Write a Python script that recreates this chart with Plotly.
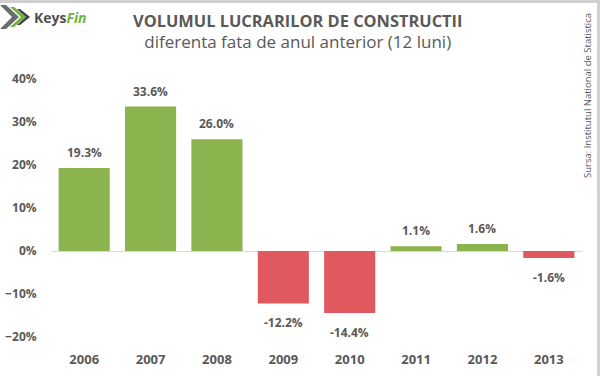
import plotly.graph_objects as go

years = ["2006", "2007", "2008", "2009", "2010", "2011", "2012", "2013"]
values = [19.3, 33.6, 26.0, -12.2, -14.4, 1.1, 1.6, -1.6]
labels = ["19.3%", "33.6%", "26.0%", "-12.2%", "-14.4%", "1.1%", "1.6%", "-1.6%"]

GREEN = "#8BB34E"
RED = "#E0595F"
TXT = "#595959"
FONT = "Open Sans"

W, H = 600, 376
L, R, T, B = 51, 18, 79, 39
PW, PH = W - L - R, H - T - B

def px(x):
    return (x - L) / PW

def py(y):
    return (H - B - y) / PH

colors = [GREEN if v >= 0 else RED for v in values]

fig = go.Figure()
fig.add_trace(go.Bar(
    x=years, y=values,
    marker=dict(color=colors, line=dict(width=0)),
    hoverinfo="skip",
))

annotations = []
for i, (v, lab) in enumerate(zip(values, labels)):
    if v >= 0:
        annotations.append(dict(x=i, y=v, xref="x", yref="y", text="<b>%s</b>" % lab,
                                showarrow=False, yanchor="bottom", yshift=5,
                                font=dict(family=FONT, size=12, color=TXT)))
    else:
        annotations.append(dict(x=i, y=v, xref="x", yref="y", text="<b>%s</b>" % lab,
                                showarrow=False, yanchor="top", yshift=-9,
                                font=dict(family=FONT, size=12, color=TXT)))

# title (two lines)
annotations.append(dict(x=px(297), y=py(30.5), xref="paper", yref="paper",
                        text="<b>VOLUMUL LUCRARILOR DE CONSTRUCTII</b><br>"
                             "<span style='font-size:17px'>diferenta fata de anul anterior (12 luni)</span>",
                        showarrow=False, xanchor="center", yanchor="middle", align="center",
                        font=dict(family=FONT, size=16.4, color=TXT)))
# source
annotations.append(dict(x=px(587), y=py(96), xref="paper", yref="paper",
                        text="Sursa: Institutul National de Statistica", showarrow=False,
                        textangle=-90, xanchor="center", yanchor="middle",
                        font=dict(family=FONT, size=9.5, color=TXT)))
# logo text
annotations.append(dict(x=px(32), y=py(17), xref="paper", yref="paper",
                        text="<b>Keys</b><b><i><span style='color:#6DB33F'>Fin</span></i></b>",
                        showarrow=False, xanchor="left", yanchor="middle",
                        font=dict(family=FONT, size=14, color="#505050")))

def path(pts):
    s = "M %f %f " % (px(pts[0][0]), py(pts[0][1]))
    for x, y in pts[1:]:
        s += "L %f %f " % (px(x), py(y))
    return s + "Z"

shapes = [
    dict(type="path", xref="paper", yref="paper", line=dict(width=0), fillcolor="#6B6B6B",
         path=path([(0, 5), (6, 5), (19, 17), (6, 29), (0, 29), (12, 17)])),
    dict(type="path", xref="paper", yref="paper", line=dict(width=0), fillcolor="#6DB33F",
         path=path([(10, 7), (14, 7), (26, 17), (14, 27), (10, 27), (21, 17)])),
    dict(type="path", xref="paper", yref="paper", line=dict(width=0), fillcolor="#3F3F3F",
         path=path([(17, 9), (20, 9), (30, 17), (20, 25), (17, 25), (26, 17)])),
    # frame lines
    dict(type="line", xref="paper", yref="paper", x0=px(0), x1=px(600), y0=py(1.5), y1=py(1.5),
         line=dict(color="#D0D0D0", width=3)),
    dict(type="line", xref="paper", yref="paper", x0=px(598.5), x1=px(598.5), y0=py(0), y1=py(376),
         line=dict(color="#D0D0D0", width=3)),
]

fig.update_layout(
    width=W, height=H,
    margin=dict(l=L, r=R, t=T, b=B, pad=0),
    paper_bgcolor="white", plot_bgcolor="white",
    showlegend=False,
    bargap=0.23,
    annotations=annotations,
    shapes=shapes,
    xaxis=dict(
        type="category", range=[-0.5, 7.5], automargin=False,
        showgrid=False, showline=False, zeroline=False,
        ticks="outside", ticklen=10, tickcolor="rgba(0,0,0,0)",
        tickfont=dict(family=FONT, size=13, color=TXT, weight="bold"),
        fixedrange=True,
    ),
    yaxis=dict(
        range=[-20, 40], dtick=10, ticksuffix="%", automargin=False,
        showgrid=False, showline=False,
        zeroline=True, zerolinecolor="#D9D9D9", zerolinewidth=1,
        ticks="outside", ticklen=11, tickcolor="rgba(0,0,0,0)",
        tickfont=dict(family=FONT, size=12, color=TXT, weight="bold"),
        fixedrange=True,
    ),
)

fig.write_html("out.html", config={"displayModeBar": False},
               post_script="document.body.style.margin='0px';document.body.style.overflow='hidden';")
